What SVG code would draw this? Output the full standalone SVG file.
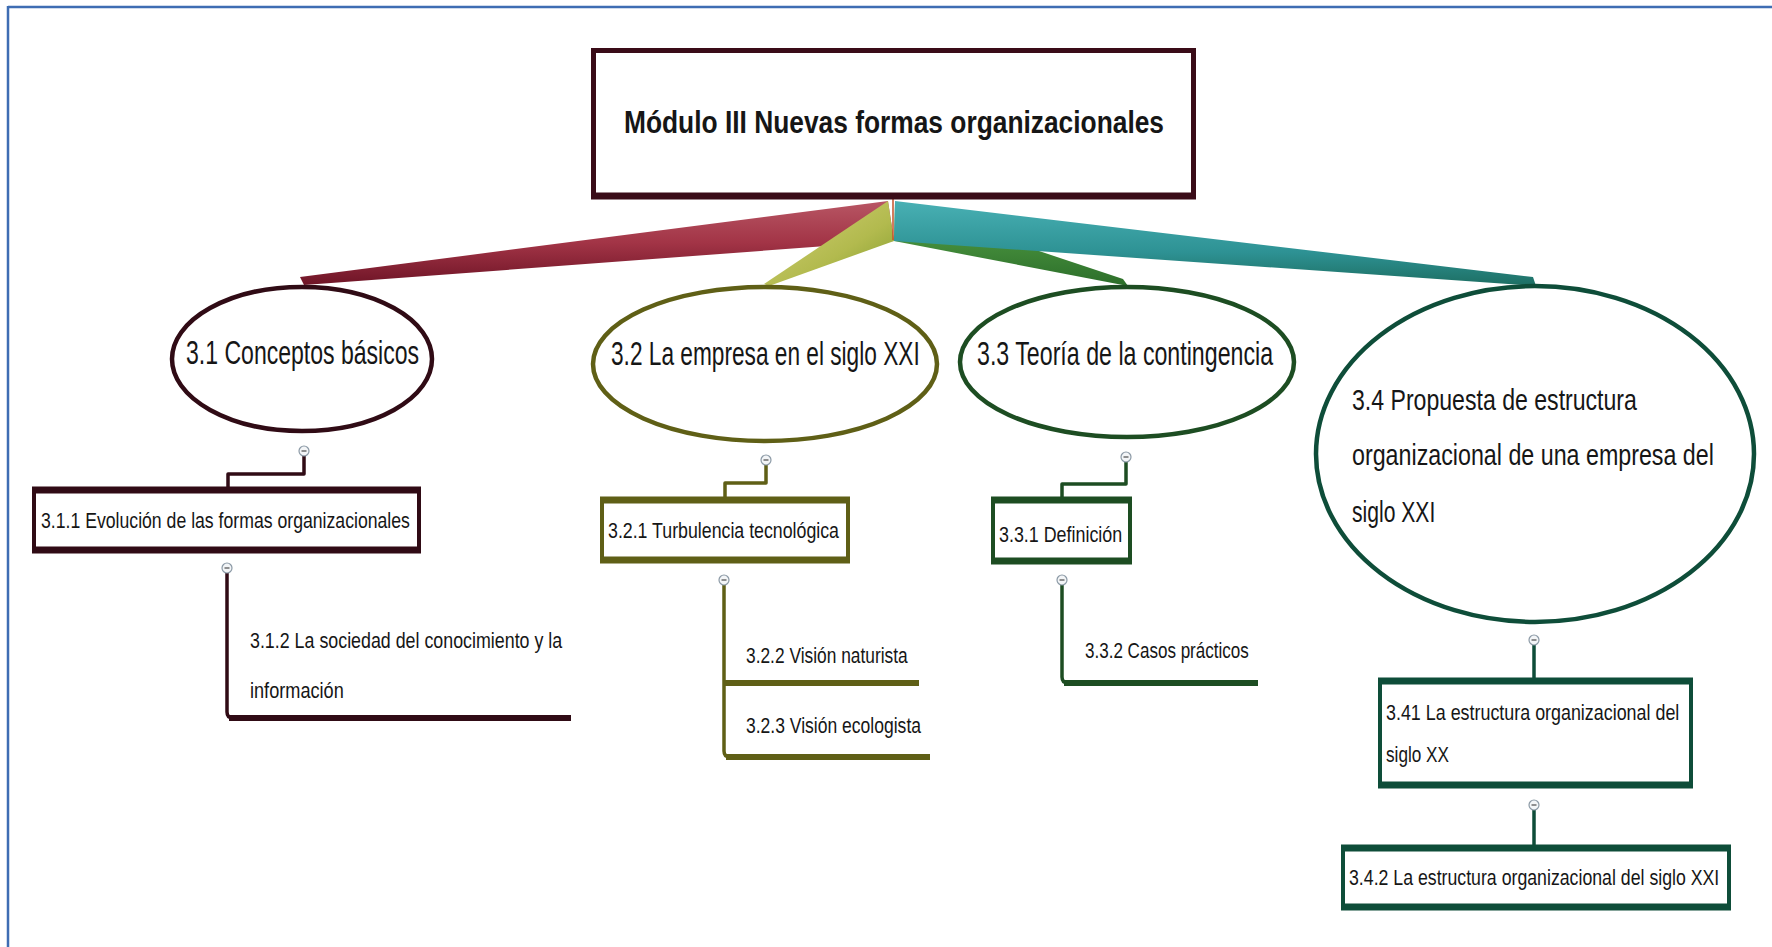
<svg xmlns="http://www.w3.org/2000/svg" xmlns:xlink="http://www.w3.org/1999/xlink" width="1772" height="947" viewBox="0 0 1772 947">
<defs>
<linearGradient id="gMaroon" x1="0" y1="0" x2="0" y2="1">
<stop offset="0" stop-color="#b85664"/><stop offset="0.5" stop-color="#a23446"/><stop offset="1" stop-color="#6e1426"/>
</linearGradient>
<linearGradient id="gOlive" x1="0" y1="0" x2="1" y2="1">
<stop offset="0" stop-color="#d6d27a"/><stop offset="0.6" stop-color="#b2ba4e"/><stop offset="1" stop-color="#7f9a2c"/>
</linearGradient>
<linearGradient id="gGreen" x1="0" y1="0" x2="0" y2="1">
<stop offset="0" stop-color="#5aa84a"/><stop offset="1" stop-color="#2c6e2a"/>
</linearGradient>
<linearGradient id="gTeal" x1="0" y1="0" x2="0" y2="1">
<stop offset="0" stop-color="#48b0b4"/><stop offset="0.6" stop-color="#2e9294"/><stop offset="1" stop-color="#1d6e62"/>
</linearGradient>
<g id="tog">
<circle r="5" fill="#f3f5f7" stroke="#8c9aa6" stroke-width="1.2"/>
<line x1="-2.5" y1="0" x2="2.5" y2="0" stroke="#4a4a4a" stroke-width="1.2"/>
</g>
</defs>
<style>
.t{font-family:"Liberation Sans",Arial,sans-serif;fill:#161616}
.big{font-size:33px}
.mid{font-size:30px}
.sm{font-size:22px}
.ttl{font-size:31px;font-weight:bold}
.mar{stroke:#300b15}
.oli{stroke:#5f5f16}
.grn{stroke:#1d4d22}
.tea{stroke:#0e4d39}
.ln{fill:none;stroke-width:3.5;stroke-linejoin:round}
.thk{stroke-width:6;stroke-linecap:butt}
.box{fill:#fff;stroke-width:4}
.ell{fill:#fff;stroke-width:4.5}
</style>
<rect x="0" y="0" width="1772" height="947" fill="#ffffff"/>
<g id="frame" stroke="#3e6db3" stroke-width="2.5" fill="none">
<line x1="8" y1="7" x2="1772" y2="7"/>
<line x1="8" y1="6" x2="8" y2="947"/>
</g>

<g id="connectors">
<polygon points="888,201 894,241 304,285 300,277" fill="url(#gMaroon)"/>
<polygon points="888,201 894,241 769,286 764,284" fill="url(#gOlive)"/>
<polygon points="895,203 894,241 1128,286 1123,279" fill="url(#gGreen)"/>
<polygon points="895,201 894,241 1536,286 1533,277" fill="url(#gTeal)"/>
<line x1="893" y1="197" x2="893" y2="240" stroke="#c4502a" stroke-width="1.5"/>

<path class="ln mar" d="M304,455 V474 H228 V490"/>
<path class="ln oli" d="M766,465 V483 H725 V498"/>
<path class="ln grn" d="M1126,461 V484 H1062 V498"/>
<path class="ln tea" d="M1534,645 V680"/>
<path class="ln tea" d="M1534,810 V847"/>

<path class="ln mar" d="M227,573 V712 Q227,718 233,718"/>
<line class="mar thk" x1="229" y1="718" x2="571" y2="718"/>
<path class="ln oli" d="M724,585 V751 Q724,757 730,757"/>
<line class="oli thk" x1="724" y1="683" x2="919" y2="683"/>
<line class="oli thk" x1="726" y1="757" x2="930" y2="757"/>
<path class="ln grn" d="M1062,585 V677 Q1062,683 1068,683"/>
<line class="grn thk" x1="1064" y1="683" x2="1258" y2="683"/>

<use xlink:href="#tog" x="304" y="451"/>
<use xlink:href="#tog" x="766" y="460"/>
<use xlink:href="#tog" x="1126" y="457"/>
<use xlink:href="#tog" x="1534" y="640"/>
<use xlink:href="#tog" x="227" y="568"/>
<use xlink:href="#tog" x="724" y="580"/>
<use xlink:href="#tog" x="1062" y="580"/>
<use xlink:href="#tog" x="1534" y="805"/>
</g>

<g id="node-root">
<rect x="593.5" y="50.5" width="600" height="145" fill="#fff" stroke="#3a0c18" stroke-width="5"/>
<line x1="591" y1="196" x2="1196" y2="196" stroke="#3a0c18" stroke-width="7"/>
<text class="t ttl" transform="translate(624,133) scale(0.72,1)" textLength="750" lengthAdjust="spacingAndGlyphs">Módulo III Nuevas formas organizacionales</text>
</g>

<g id="node-3-1">
<ellipse class="ell mar" cx="302" cy="359" rx="130" ry="72"/>
<text class="t big" transform="translate(186,364) scale(0.7,1)" textLength="333" lengthAdjust="spacingAndGlyphs">3.1 Conceptos básicos</text>
</g>
<g id="node-3-2">
<ellipse class="ell oli" cx="765" cy="364" rx="172" ry="77"/>
<text class="t big" transform="translate(611,365) scale(0.7,1)" textLength="441" lengthAdjust="spacingAndGlyphs">3.2 La empresa en el siglo XXI</text>
</g>
<g id="node-3-3">
<ellipse class="ell grn" cx="1127" cy="362" rx="167" ry="75"/>
<text class="t big" transform="translate(977,365) scale(0.7,1)" textLength="423" lengthAdjust="spacingAndGlyphs">3.3 Teoría de la contingencia</text>
</g>
<g id="node-3-4">
<ellipse class="ell tea" cx="1535" cy="454" rx="219" ry="168"/>
<text class="t mid" transform="translate(1352,410) scale(0.7,1)" textLength="407" lengthAdjust="spacingAndGlyphs">3.4 Propuesta de estructura</text>
<text class="t mid" transform="translate(1352,465) scale(0.7,1)" textLength="517" lengthAdjust="spacingAndGlyphs">organizacional de una empresa del</text>
<text class="t mid" transform="translate(1352,522) scale(0.7,1)" textLength="119" lengthAdjust="spacingAndGlyphs">siglo XXI</text>
</g>

<g id="node-3-1-1">
<rect class="box mar" x="34" y="490" width="385" height="61"/>
<line class="mar" x1="32" y1="490" x2="421" y2="490" stroke-width="7"/>
<line class="mar" x1="32" y1="550" x2="421" y2="550" stroke-width="7"/>
<text class="t sm" transform="translate(41,528) scale(0.7,1)" textLength="527" lengthAdjust="spacingAndGlyphs">3.1.1 Evolución de las formas organizacionales</text>
</g>
<g id="node-3-1-2">
<text class="t sm" transform="translate(250,648) scale(0.7,1)" textLength="446" lengthAdjust="spacingAndGlyphs">3.1.2 La sociedad del conocimiento y la</text>
<text class="t sm" transform="translate(250,698) scale(0.7,1)" textLength="134" lengthAdjust="spacingAndGlyphs">información</text>
</g>

<g id="node-3-2-1">
<rect class="box oli" x="602" y="500" width="246" height="61"/>
<line class="oli" x1="600" y1="500" x2="850" y2="500" stroke-width="7"/>
<line class="oli" x1="600" y1="560" x2="850" y2="560" stroke-width="7"/>
<text class="t sm" transform="translate(608,538) scale(0.7,1)" textLength="330" lengthAdjust="spacingAndGlyphs">3.2.1 Turbulencia tecnológica</text>
</g>
<g id="node-3-2-2">
<text class="t sm" transform="translate(746,663) scale(0.7,1)" textLength="231" lengthAdjust="spacingAndGlyphs">3.2.2 Visión naturista</text>
</g>
<g id="node-3-2-3">
<text class="t sm" transform="translate(746,733) scale(0.7,1)" textLength="250" lengthAdjust="spacingAndGlyphs">3.2.3 Visión ecologista</text>
</g>

<g id="node-3-3-1">
<rect class="box grn" x="993" y="500" width="137" height="62"/>
<line class="grn" x1="991" y1="500" x2="1132" y2="500" stroke-width="7"/>
<line class="grn" x1="991" y1="561" x2="1132" y2="561" stroke-width="7"/>
<text class="t sm" transform="translate(999,542) scale(0.7,1)" textLength="176" lengthAdjust="spacingAndGlyphs">3.3.1 Definición</text>
</g>
<g id="node-3-3-2">
<text class="t sm" transform="translate(1085,658) scale(0.7,1)" textLength="234" lengthAdjust="spacingAndGlyphs">3.3.2 Casos prácticos</text>
</g>

<g id="node-3-4-1">
<rect class="box tea" x="1380" y="681" width="311" height="105"/>
<line class="tea" x1="1378" y1="681" x2="1693" y2="681" stroke-width="7"/>
<line class="tea" x1="1378" y1="785" x2="1693" y2="785" stroke-width="7"/>
<text class="t sm" transform="translate(1386,720) scale(0.7,1)" textLength="419" lengthAdjust="spacingAndGlyphs">3.41 La estructura organizacional del</text>
<text class="t sm" transform="translate(1386,762) scale(0.7,1)" textLength="90" lengthAdjust="spacingAndGlyphs">siglo XX</text>
</g>
<g id="node-3-4-2">
<rect class="box tea" x="1343" y="848" width="386" height="60"/>
<line class="tea" x1="1341" y1="848" x2="1731" y2="848" stroke-width="7"/>
<line class="tea" x1="1341" y1="907" x2="1731" y2="907" stroke-width="7"/>
<text class="t sm" transform="translate(1349,885) scale(0.7,1)" textLength="529" lengthAdjust="spacingAndGlyphs">3.4.2 La estructura organizacional del siglo XXI</text>
</g>
</svg>
